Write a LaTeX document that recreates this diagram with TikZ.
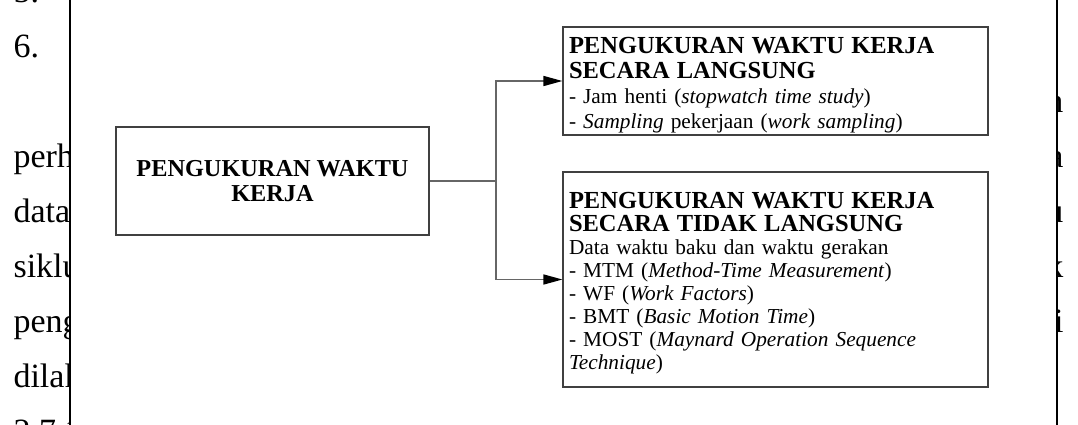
\documentclass[tikz,border=0pt]{standalone}
\usepackage{fontspec}
\setmainfont{Liberation Serif}
\usetikzlibrary{arrows.meta,calc}

\tikzset{
  box/.style={rectangle, draw=black!75, line width=1.2pt, inner xsep=6pt, inner ysep=0pt},
  link/.style={draw=black!60, line width=1.5pt, >={Triangle[length=19pt,width=10pt,fill=black,color=black]}},
  bgtext/.style={font=\fontsize{34}{40}\selectfont}
}
\newcommand{\hd}[1]{{\fontsize{24.5}{23}\selectfont\bfseries #1}}

\begin{document}
\begin{tikzpicture}[x=1pt,y=-1pt]
  \useasboundingbox (0,0) rectangle (1078,424);

  % page text that shows beside the frame
  \begin{scope}
    \clip (0,-10) rectangle (69,434);
    \path (10,2) node[bgtext,anchor=base west](l5){5.}
          (10,57) node[bgtext,anchor=base west](l6){6.}
          (10,167) node[bgtext,anchor=base west](l1){perhi}
          (10,222) node[bgtext,anchor=base west](l2){data}
          (10,277) node[bgtext,anchor=base west](l3){siklu}
          (10,332) node[bgtext,anchor=base west](l4){peng}
          (10,387) node[bgtext,anchor=base west](l7){dilak}
          (10,442) node[bgtext,anchor=base west](l8){2.7.1};
  \end{scope}
  \begin{scope}
    \clip (1058,-10) rectangle (1088,434);
    \path (1067,112) node[bgtext,anchor=base east](r1){n}
          (1067,167) node[bgtext,anchor=base east](r2){a}
          (1067,222) node[bgtext,anchor=base east](r3){u}
          (1067,277) node[bgtext,anchor=base east](r4){k}
          (1067,332) node[bgtext,anchor=base east](r5){i};
  \end{scope}

  % frame
  \draw[line width=2.5pt] (70,-10) -- (70,434);
  \draw[line width=2.5pt] (1057,-10) -- (1057,434);

  \path (272.5,181) node[box, minimum width=313pt, minimum height=108pt, align=center,
                         font=\fontsize{24.3}{25}\selectfont\bfseries](wk){PENGUKURAN WAKTU\\KERJA}
        (775.5,81) node[box, text width=413pt, minimum height=108pt, align=left,
                        font=\fontsize{21.3}{25}\selectfont](wkl){\hd{\rule{0pt}{25pt}PENGUKURAN WAKTU KERJA}\\
          \hd{SECARA LANGSUNG}\\
          - Jam henti (\textit{stopwatch time study})\\
          - \textit{Sampling} pekerjaan (\textit{work sampling})}
        (775.5,279.5) node[box, text width=413pt, minimum height=215pt, align=left,
                           font=\fontsize{21.3}{23}\selectfont](wktl){\hd{\rule{0pt}{23.5pt}PENGUKURAN WAKTU KERJA}\\
          \hd{SECARA TIDAK LANGSUNG}\\
          Data waktu baku dan waktu gerakan\\
          - MTM (\textit{Method-Time Measurement})\\
          - WF (\textit{Work Factors})\\
          - BMT (\textit{Basic Motion Time})\\
          - MOST (\textit{Maynard Operation Sequence}\\
          \textit{Technique})};

  \coordinate (br) at (496,181);
  \draw[link](wk) -- (br);
  \draw[link,->](br) |- (wkl);
  \draw[link,->](br) |- (wktl);
\end{tikzpicture}
\end{document}
